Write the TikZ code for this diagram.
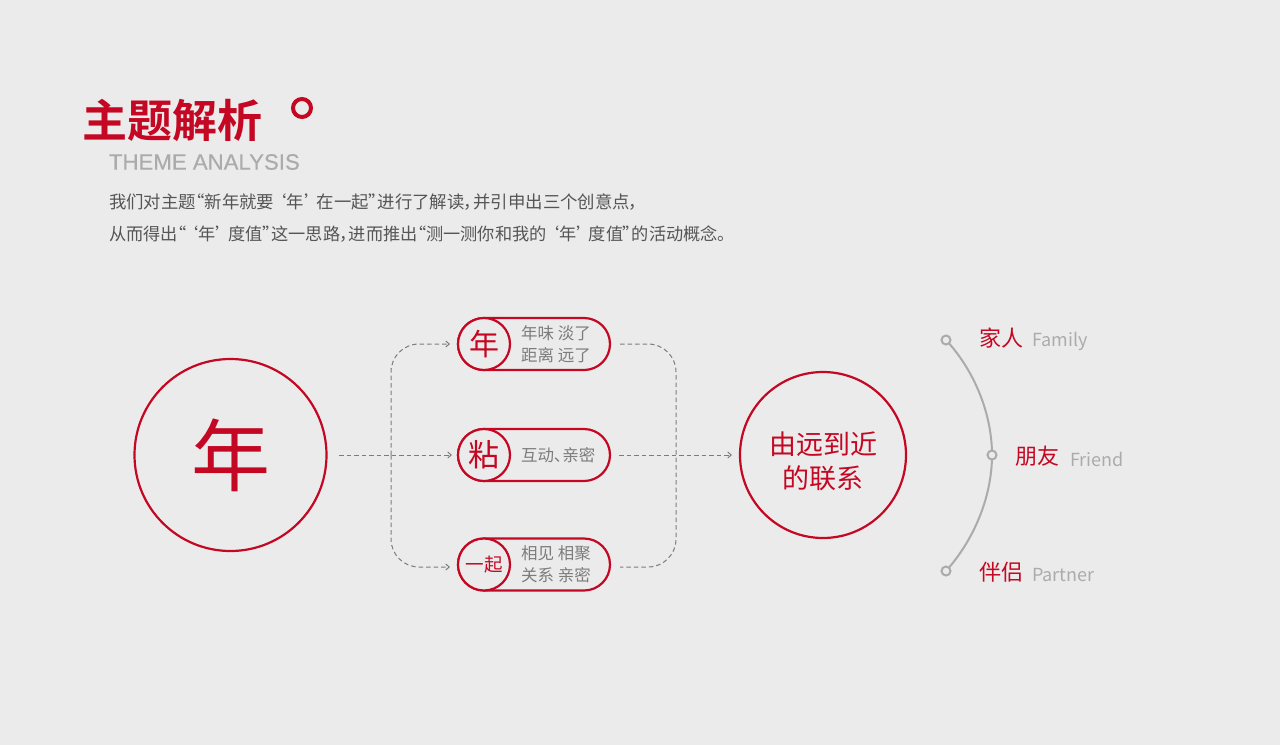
\documentclass[tikz,border=0pt]{standalone}
\usepackage{fontspec}
\usetikzlibrary{arrows.meta}
\setmainfont{Noto Sans CJK SC}[BoldFont={Noto Sans CJK SC Bold}]
\newfontfamily\palfont{Noto Sans CJK SC}[RawFeature={+palt}]
\newfontfamily\latinfont{Liberation Sans}[FakeBold=0.25]
\definecolor{bgc}{HTML}{EBEBEB}
\definecolor{redc}{HTML}{C40722}
\definecolor{greyt}{HTML}{ABABAB}
\definecolor{bodyc}{HTML}{555555}
\definecolor{pillt}{HTML}{7C7C7C}
\definecolor{dashc}{HTML}{807B7B}
\definecolor{arcc}{HTML}{ABABAB}
\newcommand{\fsz}[1]{\fontsize{#1}{#1}\selectfont}
\newcommand{\pq}[1]{{\palfont #1}}
\tikzset{
  x=1pt,y=-1pt,
  txt/.style={inner sep=0pt,outer sep=0pt,anchor=west},
  ring/.style={circle,draw=redc,line width=2.2pt,inner sep=0pt,outer sep=0pt,fill=bgc},
  pillbox/.style={draw=redc,line width=2.2pt,rounded corners=26pt},
  dashline/.style={draw=dashc,line width=1pt,dash pattern=on 4.5pt off 3pt},
  tip/.style={-{Straight Barb[length=3.5pt,width=6pt,line width=1pt]}},
  dot/.style={circle,draw=arcc,line width=2pt,minimum size=9pt,inner sep=0pt,fill=bgc},
  redname/.style={txt,text=redc,font=\fsz{22}},
  enname/.style={txt,text=greyt,font=\fsz{18}},
  pilltext/.style={txt,text=pillt,font=\fsz{16.5},align=left},
}
\newcommand{\wsp}{\hspace{4pt}}
\begin{document}
\begin{tikzpicture}
\useasboundingbox (0,0) rectangle (1280,745);
\fill[bgc] (0,0) rectangle (1280,745);
% heading
\node[txt,text=redc,font=\fsz{45}\bfseries] (title) at (82.5,120) {主题解析};
\node[circle,draw=redc,line width=4pt,minimum size=18pt,inner sep=0pt] (deg) at (302,108) {};
\node[txt,text=greyt,font=\latinfont\fsz{22.2}] (sub) at (109,162) {THEME ANALYSIS};
\node[txt,text=bodyc,font=\fsz{17.4}] (l1) at (109,202.5) {我们对主题\pq{“}新年就要 \pq{‘}年\pq{’} 在一起\pq{”}进行了解读\pq{，}并引申出三个创意点\pq{，}};
\node[txt,text=bodyc,font=\fsz{17.2}] (l2) at (109,234.5) {从而得出\pq{“} \pq{‘}年\pq{’} 度值\pq{”}这一思路\pq{，}进而推出\pq{“}测一测你和我的 \pq{‘}年\pq{’} 度值\pq{”}的活动概念。};
\coordinate (srcEnd) at (339,455);
\coordinate (tgtStart) at (619,455);
\node[ring,minimum size=192pt] (big) at (230.5,455) {};
\node[text=redc,font=\fsz{79}] (bigt) at (230.5,455) {年};
\node[ring,minimum size=166pt] (goal) at (823,455) {};
\node[text=redc,font=\fsz{27}] (goalt1) at (823,444) {由远到近};
\node[text=redc,font=\fsz{27}] (goalt2) at (823,478) {的联系};
% pills
\draw[pillbox] (458,318) rectangle (610,370);
\draw[pillbox] (458,429) rectangle (610,481);
\draw[pillbox] (458,538.5) rectangle (610,590.5);
\node[ring,minimum size=52pt] (p1) at (484,344) {};
\node[ring,minimum size=52pt] (p2) at (484,455) {};
\node[ring,minimum size=52pt] (p3) at (484,564.5) {};
\node[text=redc,font=\fsz{30}] at (p1) {年};
\node[text=redc,font=\fsz{31}] at (p2) {粘};
\node[text=redc,font=\fsz{18.5}] at (p3) {一起};
\node[pilltext] (t1a) at (521,333) {年味\wsp 淡了};
\node[pilltext] (t1b) at (521,355) {距离\wsp 远了};
\node[pilltext] (t2) at (521,455) {互动\pq{、}亲密};
\node[pilltext] (t3a) at (521,553.5) {相见\wsp 相聚};
\node[pilltext] (t3b) at (521,575.5) {关系\wsp 亲密};
\coordinate (la) at (450,344);
\coordinate (lb) at (450,567);
\coordinate (lm) at (452,455);
\coordinate (ra) at (620,344);
\coordinate (rb) at (620,567);
\coordinate (rm) at (732,455);
\draw[dashline,tip] (srcEnd) -- (lm);
\draw[dashline,tip] (tgtStart) -- (rm);
\coordinate (lc) at (391,455);
\draw[dashline,tip,rounded corners=28pt] (lc) -- (391,344) -- (la);
\draw[dashline,tip,rounded corners=28pt] (lc) -- (391,567) -- (lb);
\draw[dashline,rounded corners=28pt] (ra) -- (676,344) -- (676,567) -- (rb);
% arc
\coordinate (a1) at (946,340);
\coordinate (a2) at (992,455);
\coordinate (a3) at (946,571);
\draw[arcc,line width=2pt] (a1) .. controls (973,369) and (992,412) .. (a2) .. controls (992,498) and (973,541) .. (a3);
\node[dot] (d1) at (a1) {};
\node[dot] (d2) at (a2) {};
\node[dot] (d3) at (a3) {};
\node[redname] (n1) at (979,338) {家人};
\node[enname] (e1) at (1032,341) {Family};
\node[redname] (n2) at (1015,456) {朋友};
\node[enname] (e2) at (1070,459) {Friend};
\node[redname] (n3) at (979,572) {伴侣};
\node[enname] (e3) at (1032,575) {Partner};
\end{tikzpicture}
\end{document}
